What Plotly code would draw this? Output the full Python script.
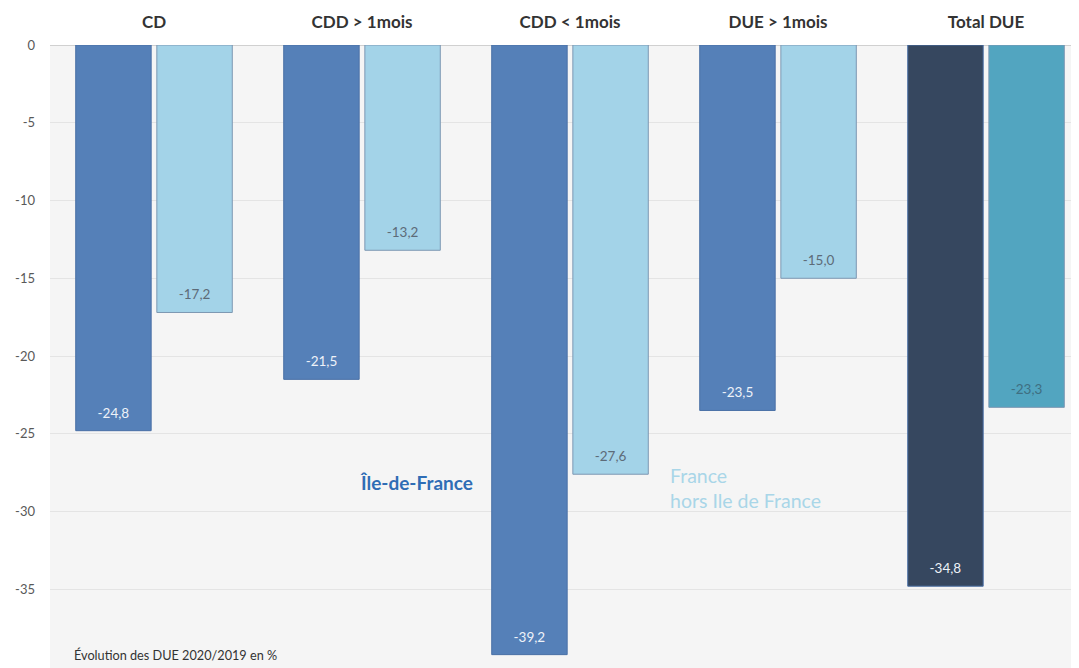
import plotly.graph_objects as go

categories = ["CD", "CDD > 1mois", "CDD < 1mois", "DUE > 1mois", "Total DUE"]
idf = [-24.8, -21.5, -39.2, -23.5, -34.8]
hors_idf = [-17.2, -13.2, -27.6, -15.0, -23.3]
y_ticks = [0, -5, -10, -15, -20, -25, -30, -35, -40]

BLEU = "#5580b8"
BLEU_FONCE = "#36475f"
CIEL = "#a3d3e8"
TURQUOISE = "#52a5c0"
FOND = "#f5f5f5"
FONT = "Lato"

# la page html garde la marge de 8px du navigateur
BODY = 8


def fmt(v):
    # virgule décimale + petite ligne vide pour décoller l'étiquette du bout de barre
    return "<span style='font-size:13.5px'>" + f"{v:.1f}".replace(".", ",") + "</span><br> "


fig = go.Figure()

fig.add_trace(go.Bar(
    x=categories, y=idf, name="Île-de-France",
    marker=dict(color=[BLEU] * 4 + [BLEU_FONCE],
                line=dict(color="#4a70a6", width=1)),
    text=[fmt(v) for v in idf],
    textposition="inside", insidetextanchor="end",
    textfont=dict(color="#eef2f8", size=7, family=FONT),
    textangle=0,
))
fig.add_trace(go.Bar(
    x=categories, y=hors_idf, name="France hors Ile de France",
    marker=dict(color=[CIEL] * 4 + [TURQUOISE],
                line=dict(color="#7d98b3", width=1)),
    text=[fmt(v) for v in hors_idf],
    textposition="inside", insidetextanchor="end",
    textfont=dict(color=["#5d6b78"] * 4 + ["#3f6f82"], size=7, family=FONT),
    textangle=0,
))

fig.add_annotation(
    text="<b>Île-de-France</b>", x=0.299, y=-28.15, xref="paper", yref="y",
    xanchor="left", yanchor="middle", showarrow=False,
    font=dict(color="#2f6db5", size=19, family=FONT),
)
fig.add_annotation(
    text="France<br>hors Ile de France", x=0.6006, y=-28.5, xref="paper", yref="y",
    xanchor="left", yanchor="middle", align="left", showarrow=False,
    font=dict(color="#a9d6e8", size=19.5, family=FONT),
)
fig.add_annotation(
    text="Évolution des DUE 2020/2019 en %", x=0.0214, y=-39.2, xref="paper", yref="y",
    xanchor="left", yanchor="middle", showarrow=False,
    font=dict(color="#333333", size=12.7, family=FONT),
)

fig.update_layout(
    width=1079 - BODY, height=668 - BODY,
    barmode="group", bargap=0.22, bargroupgap=0.07,
    paper_bgcolor="white", plot_bgcolor=FOND,
    font=dict(family=FONT, color="#595959"),
    showlegend=False,
    margin=dict(t=45 - BODY, b=0, l=50 - BODY, r=0),
    xaxis=dict(
        side="top", range=[-0.5, 4.447], showgrid=False, automargin=False,
        tickfont=dict(size=17, color="#333333", family=FONT),
        ticklabelstandoff=13,
        tickprefix="<b>", ticksuffix="</b>",
    ),
    yaxis=dict(
        range=[-40.06, 0], tickvals=y_ticks, ticktext=[str(v) for v in y_ticks],
        gridcolor="#e4e4e4", gridwidth=1, automargin=False,
        zeroline=True, zerolinecolor="#d0d0d0", zerolinewidth=1,
        tickfont=dict(size=13, color="#595959", family=FONT),
        ticklabelstandoff=14,
    ),
)

fig.write_html("out.html")
